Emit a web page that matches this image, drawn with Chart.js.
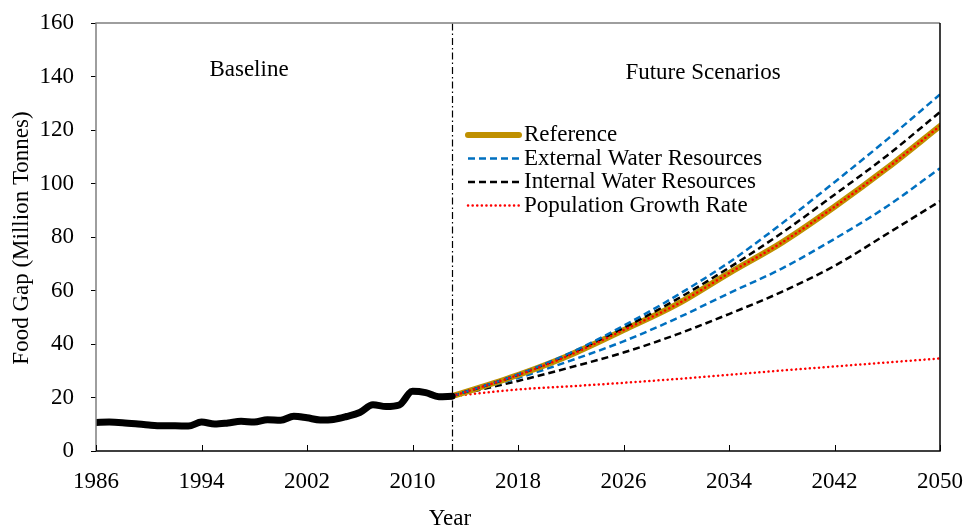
<!DOCTYPE html>
<html>
<head>
<meta charset="utf-8">
<title>Food Gap</title>
<script src="https://cdn.jsdelivr.net/npm/chart.js@4.4.0/dist/chart.umd.min.js"></script>
<style>
  html, body { margin: 0; padding: 0; background: #fff; }
  .chart-box { position: relative; width: 966px; height: 529px; }
</style>
</head>
<body>
<div class="chart-box"><canvas id="foodGapChart"></canvas></div>
<script>
// Observed food gap, million tonnes
const baselineYears = [1986, 1987, 1988, 1989, 1990, 1991, 1992, 1993, 1994, 1995, 1996, 1997, 1998, 1999,
                       2000, 2001, 2002, 2003, 2004, 2005, 2006, 2007, 2008, 2009, 2010, 2011, 2012, 2013];
const baselineGap = [10.7, 10.8, 10.6, 10.2, 9.7, 9.4, 9.4, 9.3, 10.8, 10.1, 10.5, 11.1, 10.8, 11.7,
                     11.5, 13.0, 12.4, 11.6, 11.8, 12.9, 14.4, 17.3, 16.6, 17.2, 22.3, 21.8, 20.3, 20.5];

// Projections
const futureYears = [2013, 2018, 2022, 2026, 2030, 2034, 2038, 2042, 2046, 2050];
const referenceGap = [20.5, 28.4, 36.0, 45.2, 54.7, 66.5, 77.9, 91.3, 105.8, 121.5];
const externalHigh = [20.5, 28.6, 36.8, 46.8, 58.0, 70.5, 85.0, 100.5, 116.5, 133.3];
const externalLow  = [20.5, 27.3, 33.8, 41.0, 49.5, 59.0, 68.2, 79.3, 91.5, 105.7];
const internalHigh = [20.5, 28.5, 36.5, 46.0, 56.6, 68.5, 81.5, 95.8, 110.5, 126.7];
const internalLow  = [20.5, 26.2, 31.3, 36.8, 43.5, 51.2, 59.5, 69.2, 81.2, 93.4];
const populationHigh = referenceGap;
const populationLow  = [20.5, 23.0, 24.2, 25.5, 26.9, 28.5, 30.1, 31.6, 33.1, 34.6];

const xTicks = [1986, 1994, 2002, 2010, 2018, 2026, 2034, 2042, 2050];
const splitYear = 2013;

const serif = "'Liberation Serif', 'Times New Roman', serif";
const FONT_SIZE = 23;
const GOLD = '#BF9000';
const BLUE = '#0070C0';
const RED = '#FF0000';

function pairs(xs, ys) {
    return xs.map((x, i) => ({ x: x, y: ys[i] }));
}

function line(label, xs, ys, color, width, dash, extra) {
    return Object.assign({
        label: label,
        data: pairs(xs, ys),
        borderColor: color,
        backgroundColor: color,
        borderWidth: width,
        borderDash: dash,
        pointRadius: 0,
        fill: false,
        cubicInterpolationMode: 'monotone'
    }, extra || {});
}

const DASH = [7, 4];
const DOTS = [0.1, 4.5];

// listed bottom -> top; 'order' set below so later entries paint over earlier ones
const datasets = [
    line('Internal Water Resources (low)', futureYears, internalLow, '#000', 2.5, DASH),
    line('External Water Resources (low)', futureYears, externalLow, BLUE, 2.5, DASH),
    line('Population Growth Rate (low)', futureYears, populationLow, RED, 2.5, DOTS, { borderCapStyle: 'round' }),
    line('Reference', futureYears, referenceGap, GOLD, 6, [], { borderCapStyle: 'round' }),
    line('Internal Water Resources', futureYears, internalHigh, '#000', 2.5, DASH),
    line('External Water Resources', futureYears, externalHigh, BLUE, 2.5, DASH),
    line('Population Growth Rate', futureYears, populationHigh, RED, 2.5, DOTS, { borderCapStyle: 'round' }),
    line('Baseline', baselineYears, baselineGap, '#000', 7, [], { borderCapStyle: 'round' })
];
datasets.forEach((ds, i) => { ds.order = datasets.length - i; });

// legend entries: label + index of dataset whose style is shown
const legendItems = [
    ['Reference', 3],
    ['External Water Resources', 5],
    ['Internal Water Resources', 4],
    ['Population Growth Rate', 6]
];

const decorations = {
    id: 'decorations',
    beforeDatasetsDraw(chart) {
        const { ctx, chartArea: a, scales: { x } } = chart;
        ctx.save();
        // split between observed and projected periods
        const sx = Math.round(x.getPixelForValue(splitYear)) + 0.5;
        ctx.strokeStyle = '#000';
        ctx.lineWidth = 1.2;
        ctx.setLineDash([7, 3, 1.5, 3]);
        ctx.beginPath();
        ctx.moveTo(sx, a.bottom);
        ctx.lineTo(sx, a.top);
        ctx.stroke();
        ctx.restore();
    },
    afterDraw(chart) {
        const { ctx, chartArea: a, scales: { x } } = chart;
        ctx.save();

        // frame
        ctx.lineWidth = 1.5;
        ctx.strokeStyle = '#7f7f7f';
        ctx.beginPath();
        ctx.moveTo(a.left, a.bottom);
        ctx.lineTo(a.left, a.top);
        ctx.lineTo(a.right, a.top);
        ctx.stroke();
        ctx.strokeStyle = '#000';
        ctx.beginPath();
        ctx.moveTo(a.right, a.top);
        ctx.lineTo(a.right, a.bottom);
        ctx.lineTo(a.left, a.bottom);
        ctx.stroke();

        // x ticks point up into the plot
        ctx.lineWidth = 1;
        xTicks.concat([splitYear]).forEach(v => {
            const px = Math.round(x.getPixelForValue(v)) + 0.5;
            ctx.beginPath();
            ctx.moveTo(px, a.bottom);
            ctx.lineTo(px, a.bottom - 6);
            ctx.stroke();
        });

        ctx.fillStyle = '#000';
        ctx.font = FONT_SIZE + 'px ' + serif;
        ctx.textAlign = 'center';
        ctx.textBaseline = 'middle';
        ctx.fillText('Baseline', 249, 70);
        ctx.fillText('Future Scenarios', 703, 73);
        ctx.fillText('Year', 450, 519);

        // y title
        ctx.save();
        ctx.translate(22, 238);
        ctx.rotate(-Math.PI / 2);
        ctx.fillText('Food Gap (Million Tonnes)', 0, 0);
        ctx.restore();

        // legend
        const lx0 = 468, lx1 = 519, tx = 524;
        legendItems.forEach(([text, idx], i) => {
            const ds = chart.data.datasets[idx];
            const y = 135 + i * 23.5;
            ctx.save();
            ctx.strokeStyle = ds.borderColor;
            ctx.lineWidth = ds.borderWidth;
            ctx.lineCap = ds.borderCapStyle || 'butt';
            ctx.setLineDash(ds.borderDash || []);
            ctx.beginPath();
            ctx.moveTo(lx0, y);
            ctx.lineTo(lx1, y);
            ctx.stroke();
            ctx.restore();
            ctx.textAlign = 'left';
            ctx.fillText(text, tx, y);
        });

        ctx.restore();
    }
};

new Chart(document.getElementById('foodGapChart'), {
    type: 'line',
    data: { datasets: datasets },
    options: {
        responsive: true,
        maintainAspectRatio: false,
        animation: false,
        layout: { padding: { top: 23, right: 26, left: 0, bottom: 0 } },
        plugins: {
            legend: { display: false },
            tooltip: { enabled: false }
        },
        scales: {
            x: {
                type: 'linear',
                min: 1986,
                max: 2050,
                afterBuildTicks: axis => { axis.ticks = xTicks.map(v => ({ value: v })); },
                afterFit: axis => {
                    axis.height = 78;
                    axis.paddingLeft = 0;
                    axis.paddingRight = 0;
                },
                ticks: {
                    color: '#000',
                    padding: 17,
                    maxRotation: 0,
                    font: { family: serif, size: FONT_SIZE },
                    callback: v => String(v)
                },
                grid: { display: false, drawTicks: false },
                border: { display: false }
            },
            y: {
                min: 0,
                max: 160,
                afterFit: axis => {
                    axis.width = 96;
                    axis.paddingTop = 0;
                    axis.paddingBottom = 0;
                },
                ticks: {
                    stepSize: 20,
                    color: '#000',
                    padding: 17,
                    font: { family: serif, size: FONT_SIZE }
                },
                grid: { drawOnChartArea: false, drawTicks: true, tickLength: 5, color: '#000' },
                border: { display: false }
            }
        }
    },
    plugins: [decorations]
});
</script>
</body>
</html>
